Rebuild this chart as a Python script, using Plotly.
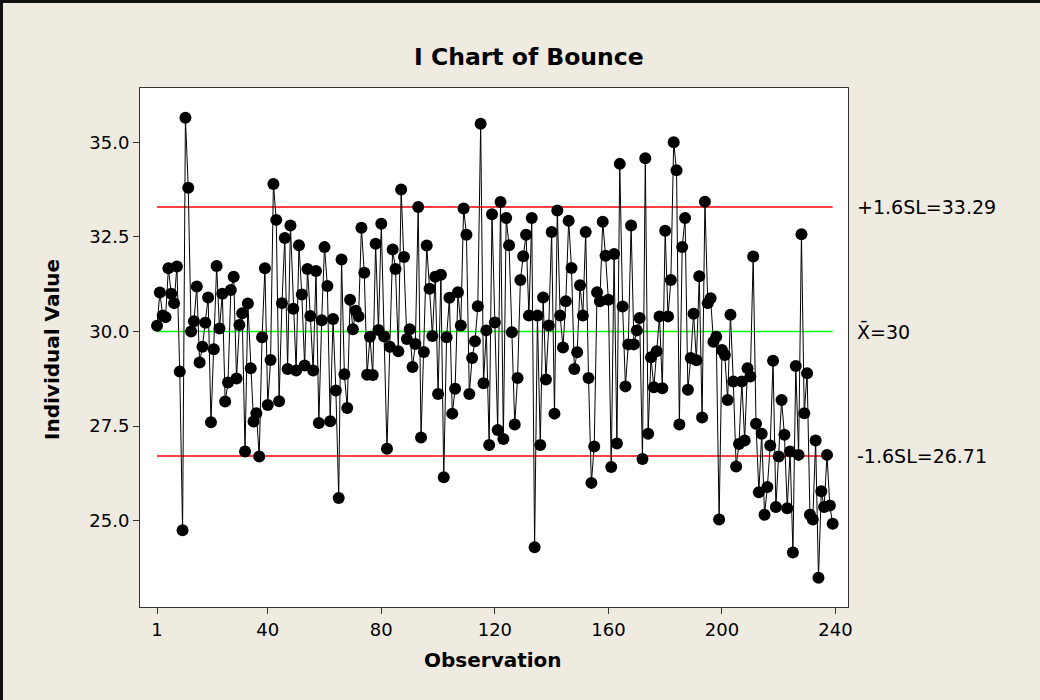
import plotly.graph_objects as go

# ---- data ----
bounce = [
    30.15, 31.03, 30.42, 30.38, 31.67, 31.00, 30.75, 31.72, 28.94, 24.75,
    35.65, 33.80, 30.00, 30.27, 31.19, 29.18, 29.60, 30.23, 30.90, 27.60,
    29.53, 31.73, 30.08, 31.00, 28.15, 28.65, 31.10, 31.45, 28.76, 30.17,
    30.48, 26.83, 30.74, 29.03, 27.62, 27.84, 26.70, 29.85, 31.67, 28.06,
    29.25, 33.90, 32.95, 28.16, 30.75, 32.47, 29.01, 32.80, 30.60, 28.97,
    32.28, 30.98, 29.10, 31.65, 30.41, 28.97, 31.60, 27.58, 30.30, 32.23,
    31.20, 27.63, 30.33, 28.44, 25.60, 31.90, 28.87, 27.98, 30.84, 30.06,
    30.55, 30.40, 32.74, 31.55, 28.86, 29.86, 28.85, 32.32, 30.04, 32.85,
    29.87, 26.90, 29.60, 32.17, 31.65, 29.48, 33.75, 31.97, 29.80, 30.06,
    29.06, 29.67, 33.29, 27.20, 29.46, 32.27, 31.13, 29.88, 31.45, 28.35,
    31.50, 26.15, 29.85, 30.89, 27.83, 28.49, 31.04, 30.16, 33.25, 32.56,
    28.35, 29.30, 29.74, 30.67, 35.49, 28.63, 30.03, 27.00, 33.10, 30.24,
    27.40, 33.42, 27.16, 33.00, 32.28, 29.98, 27.54, 28.77, 31.36, 31.99,
    32.56, 30.42, 33.00, 24.30, 30.42, 27.00, 30.90, 28.73, 30.16, 32.63,
    27.83, 33.20, 30.42, 29.58, 30.80, 32.93, 31.68, 29.01, 29.45, 31.22,
    30.42, 32.63, 28.77, 26.00, 26.96, 31.04, 30.80, 32.90, 32.00, 30.84,
    26.42, 32.05, 27.04, 34.43, 30.66, 28.55, 29.66, 32.80, 29.66, 30.03,
    30.36, 26.63, 34.58, 27.30, 29.32, 28.53, 29.48, 30.40, 28.50, 32.66,
    30.40, 31.36, 35.00, 34.26, 27.54, 32.23, 33.00, 28.46, 29.30, 30.47,
    29.24, 31.46, 27.73, 33.43, 30.75, 30.88, 29.73, 29.86, 25.03, 29.51,
    29.38, 28.19, 30.44, 28.68, 26.43, 27.03, 28.68, 27.12, 29.03, 28.81,
    31.98, 27.56, 25.75, 27.30, 25.16, 25.89, 26.99, 29.23, 25.36, 26.70,
    28.19, 27.27, 25.33, 26.83, 24.16, 29.09, 26.74, 32.57, 27.84, 28.90,
    25.16, 25.03, 27.12, 23.49, 25.78, 25.36, 26.74, 25.40, 24.92,
]
observation = list(range(1, len(bounce) + 1))

center_line = 30.0
upper_limit = 33.29
lower_limit = 26.71
limit_labels = ["+1.6SL=33.29", "X\u0304=30", "-1.6SL=26.71"]
limit_values = [upper_limit, center_line, lower_limit]

x_ticks = [1, 40, 80, 120, 160, 200, 240]
y_ticks = [25.0, 27.5, 30.0, 32.5, 35.0]
y_tick_text = ["25.0", "27.5", "30.0", "32.5", "35.0"]

title_text = "I Chart of Bounce"
x_title = "Observation"
y_title = "Individual Value"

# ---- figure ----
FONT = "DejaVu Sans"
fig = go.Figure()

x_ends = [observation[0], observation[-1]]
for val, col in [(upper_limit, "#FF0000"), (center_line, "#00FF00"), (lower_limit, "#FF0000")]:
    fig.add_trace(go.Scatter(x=x_ends, y=[val, val], mode="lines",
                             line=dict(color=col, width=1.5),
                             hoverinfo="skip", showlegend=False))

fig.add_trace(go.Scatter(
    x=observation, y=bounce, mode="lines+markers",
    line=dict(color="black", width=1),
    marker=dict(color="black", size=12),
    showlegend=False,
))

W, H = 1040, 700
L, R, T, B = 140, 192, 88, 93
pw, ph = W - L - R, H - T - B

def px_x(px):
    return (px - L) / pw

def px_y(py):
    return (H - B - py) / ph

annotations = [
    dict(text="<b>%s</b>" % title_text, x=px_x(529), y=px_y(57), xref="paper", yref="paper",
         showarrow=False, xanchor="center", yanchor="middle",
         font=dict(family=FONT, size=23.5, color="black")),
    dict(text="<b>%s</b>" % x_title, x=px_x(493), y=px_y(660), xref="paper", yref="paper",
         showarrow=False, xanchor="center", yanchor="middle",
         font=dict(family=FONT, size=20, color="black")),
    dict(text="<b>%s</b>" % y_title, x=px_x(52), y=px_y(350), xref="paper", yref="paper",
         showarrow=False, xanchor="center", yanchor="middle", textangle=-90,
         font=dict(family=FONT, size=20, color="black")),
]
for lab, val in zip(limit_labels, limit_values):
    annotations.append(dict(text=lab, x=px_x(855), y=val, xref="paper", yref="y",
                            showarrow=False, xanchor="left", yanchor="middle",
                            font=dict(family=FONT, size=19, color="black")))

shapes = [
    dict(type="line", xref="paper", yref="paper", x0=px_x(0), x1=px_x(W + 10),
         y0=px_y(1.5), y1=px_y(1.5), line=dict(color="#111111", width=3)),
    dict(type="line", xref="paper", yref="paper", x0=px_x(1.5), x1=px_x(1.5),
         y0=px_y(0), y1=px_y(H + 10), line=dict(color="#111111", width=3)),
]

fig.update_layout(
    width=W, height=H,
    margin=dict(l=L, r=R, t=T, b=B, pad=0),
    paper_bgcolor="#EFEBE1",
    plot_bgcolor="white",
    annotations=annotations,
    shapes=shapes,
    font=dict(family=FONT, size=18, color="black"),
)
fig.update_xaxes(
    range=[-5.0, 244.4], tickvals=x_ticks, ticks="outside", ticklen=6, tickwidth=1,
    tickcolor="#333333", showgrid=False, zeroline=False, showline=True, linecolor="#333333",
    linewidth=1, mirror=True, tickfont=dict(family=FONT, size=18, color="black"),
)
fig.update_yaxes(
    range=[22.72, 36.435], tickvals=y_ticks, ticktext=y_tick_text, ticks="outside", ticklen=6,
    tickwidth=1, tickcolor="#333333", showgrid=False, zeroline=False, showline=True,
    linecolor="#333333", linewidth=1, mirror=True, tickfont=dict(family=FONT, size=18, color="black"),
)

fig.write_html("out.html")
